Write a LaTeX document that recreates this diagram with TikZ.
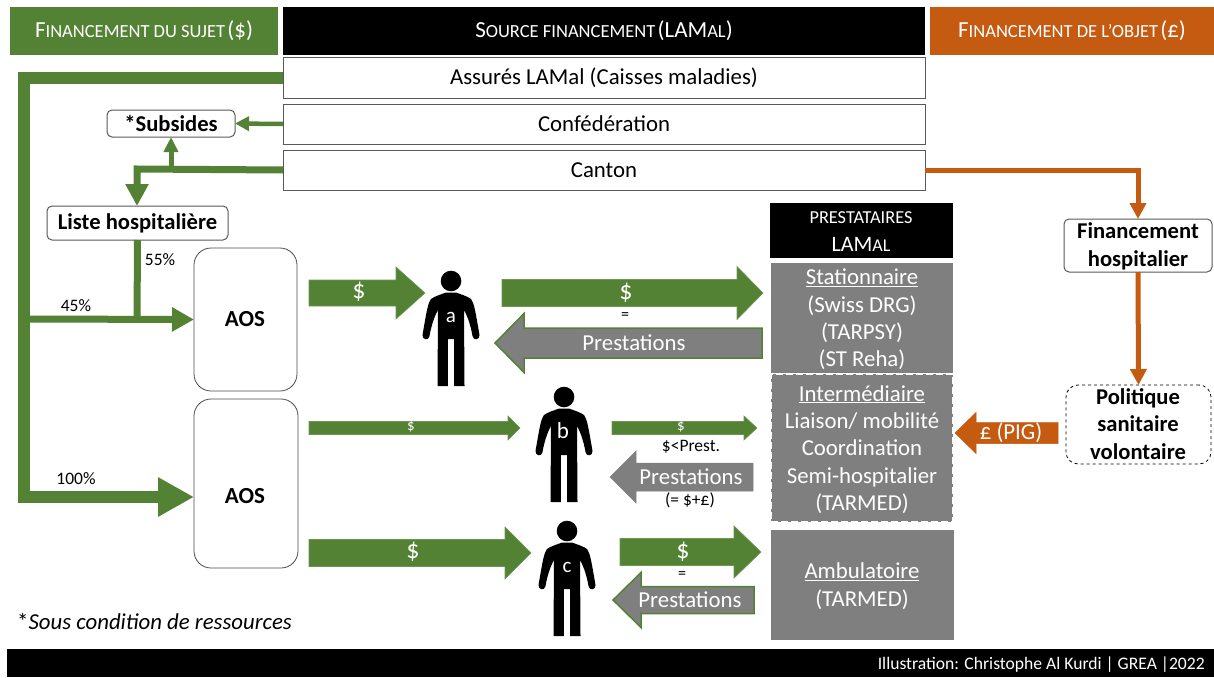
\documentclass[tikz,border=0pt]{standalone}
\usepackage{fontspec}
\setmainfont{Carlito}
\usetikzlibrary{arrows.meta}
\definecolor{grn}{HTML}{548235}
\definecolor{org}{HTML}{C55A11}
\definecolor{gry}{HTML}{7F7F7F}
\newcommand{\fs}[1]{\fontsize{#1}{#1}\selectfont}
\newcommand{\fl}[1]{\fontsize{#1}{27.4}\selectfont}
\newcommand{\capsa}[2]{{\fs{23}#1}{\fs{18.5}#2}}
% \bx{name}{x1}{y1}{x2}{y2}{style}{text}
\newcommand{\bx}[7]{%
  \pgfmathsetmacro{\bxw}{#4-#2}\pgfmathsetmacro{\bxh}{#5-#3}%
  \pgfmathsetmacro{\bxx}{(#2+#4)/2}\pgfmathsetmacro{\bxy}{(#3+#5)/2}%
  \node[#6,minimum width=\bxw pt,minimum height=\bxh pt] (#1) at (\bxx,\bxy) {#7};}
% \blk{name}{tail x}{tip x}{y}{shaft}{head}{head length}{style}
\newcommand{\blk}[8]{%
  \pgfmathsetmacro{\bxb}{#3>#2?#3-#7:#3+#7}%
  \pgfmathsetmacro{\bxs}{#5/2}\pgfmathsetmacro{\bxh}{#6/2}%
  \draw[#8,line join=miter] (#2,#4-\bxs) -- (\bxb,#4-\bxs) -- (\bxb,#4-\bxh) -- (#3,#4)
    -- (\bxb,#4+\bxh) -- (\bxb,#4+\bxs) -- (#2,#4+\bxs) -- cycle;
  \coordinate (#1) at (#2,#4);}
\tikzset{
  headbox/.style={fill=#1,text=white,inner sep=0pt,outer sep=0pt},
  srcbox/.style={draw=black!65,fill=white,line width=1pt,inner sep=0pt,outer sep=0pt,font=\fs{22.8}},
  rbox/.style={draw=black!65,fill=white,line width=1pt,rounded corners=5pt,inner sep=0pt,outer sep=0pt,font=\bfseries\fs{22.6},align=center},
  aosbox/.style={draw=black!70,fill=white,line width=.8pt,rounded corners=17pt,inner sep=0pt,outer sep=0pt},
  aostext/.style={inner sep=0pt,font=\bfseries\fs{23}},
  provbox/.style={fill=gry,inner sep=0pt,outer sep=0pt},
  provtext/.style={text=white,inner sep=0pt,font=\fl{22.8},align=center},
  boldtext/.style={text=black,inner sep=0pt,font=\bfseries\fl{22.6},align=center},
  gflow/.style={draw=grn,line join=miter},
  oflow/.style={draw=org,line join=miter},
  ga/.style={fill=grn,draw=grn!85!white,line width=.6pt},
  pa/.style={fill=gry,draw=grn,line width=1.5pt},
  pb/.style={fill=gry,draw=gry,line width=.5pt},
  oa/.style={fill=org,draw=org,line width=.5pt},
  lblw/.style={text=white,inner sep=0pt},
  lblb/.style={text=black,inner sep=0pt},
  person/.pic={
    \fill[black] (0,0) circle (10.3);
    \fill[black] (-5,11.5) .. controls (-10,13.5) and (-16,15) .. (-20,18)
      .. controls (-23,22) and (-24,28) .. (-28.5,54)
      .. controls (-29,59) and (-22,60) .. (-21.5,55)
      .. controls (-20,46) and (-17,36) .. (-13,29)
      -- (-13.5,105) -- (-3.2,105) -- (-3.2,58) -- (3.2,58) -- (3.2,105) -- (13.5,105) -- (13,29)
      .. controls (17,36) and (20,46) .. (21.5,55)
      .. controls (22,60) and (29,59) .. (28.5,54)
      .. controls (24,28) and (23,22) .. (20,18)
      .. controls (16,15) and (10,13.5) .. (5,11.5) -- cycle;
  }
}
\begin{document}
\begin{tikzpicture}[x=1pt,y=-1pt]
\useasboundingbox (0,0) rectangle (1214,677);
% headers
\bx{hs}{10}{7}{278}{55}{headbox=grn}{\raisebox{-1pt}{\capsa{F}{INANCEMENT DU SUJET} \fs{23}(\$)}}
\bx{hf}{283}{7}{925}{55}{headbox=black}{\raisebox{-1pt}{\capsa{S}{OURCE FINANCEMENT} \fs{23}(LAM{\fs{18.5}AL})}}
\bx{ho}{930}{7}{1214}{55}{headbox=org}{\raisebox{-1pt}{\capsa{F}{INANCEMENT DE L’OBJET} \fs{23}(£)}}
% sources
\bx{assures}{283}{58}{925}{98}{srcbox}{Assurés LAMal (Caisses maladies)}
\bx{conf}{283}{104}{925}{144}{srcbox}{Confédération}
\bx{canton}{283}{150}{925}{190}{srcbox}{Canton}
% left boxes
\bx{subs}{107}{110}{235}{137}{rbox}{*Subsides}
\bx{liste}{47}{206}{228}{240}{rbox}{\raisebox{-1pt}{Liste hospitalière}}
\bx{aosa}{194}{248}{297}{391}{aosbox}{}
\bx{aosb}{194}{399}{298}{568}{aosbox}{}
\node[aostext] (aosat) at (245,319.5) {AOS};
\node[aostext] (aosbt) at (245,496.5) {AOS};
\coordinate (leftt) at (24,78);
\coordinate (leftb) at (24,497);
\coordinate (split) at (137,319);
\coordinate (bleft) at (24,319);
\coordinate (cbr) at (171,169);
\coordinate (ccorner) at (137,169);
\draw[gflow,line width=12pt,-{Triangle[length=36pt,width=37pt]}] (assures.west) -- (leftt) -- (leftb) -- (aosb.west |- leftb);
\draw[gflow,line width=7pt,-{Triangle[length=22pt,width=23pt]}] (bleft) -- (aosa.west);
\draw[gflow,line width=7pt] (liste.south) -- (split |- 0,322.5);
\draw[gflow,line width=4.5pt,-{Triangle[length=14pt,width=14pt]}] (conf.west) -- (subs.east);
\draw[gflow,line width=7pt,-{Triangle[length=22pt,width=22pt]}] (canton.west) -- (ccorner) -- (liste.north -| ccorner);
\draw[gflow,line width=5pt,-{Triangle[length=15pt,width=14pt]}] (cbr) -- (subs.south -| cbr);
\node[lblb,font=\fs{17.5}] (p55) at (160,260) {55\%};
\node[lblb,font=\fs{17.5}] (p45) at (76,306) {45\%};
\node[lblb,font=\fs{17.5}] (p100) at (76,479) {100\%};
\node[lblb,font=\fs{22.8},anchor=west] (note) at (17,621) {*\textit{Sous condition de ressources}};
% persons
\pic at (451,281) {person}; \node[lblw,font=\fs{21}] (pa) at (451,317) {a};
\pic at (564,397) {person}; \node[lblw,font=\fs{23}] (pb) at (563,431) {b};
\pic at (567,531) {person}; \node[lblw,font=\fs{21}] (pc) at (567,567) {c};
% providers
\bx{prest}{770}{203}{953}{258}{headbox=black}{}
\node[lblw,font=\fs{18.3}] (prest1) at (861,218) {PRESTATAIRES};
\node[lblw,font=\fs{22}] (prest2) at (861,244) {LAM{\fs{18}AL}};
\bx{stat}{771}{263}{953}{373}{provbox}{}
\bx{inter}{771}{374}{953}{522}{provbox,draw=white,line width=2.4pt,dash pattern=on 7pt off 3pt}{}
\bx{amb}{771}{530}{954}{640}{provbox}{}
\node[provtext] (statt) at (862,319.5) {\underline{Stationnaire}\\(Swiss DRG)\\(TARPSY)\\(ST Reha)};
\node[provtext] (intert) at (862,449.5) {\underline{Intermédiaire}\\Liaison/ mobilité\\Coordination\\Semi-hospitalier\\(TARMED)};
\node[provtext] (ambt) at (862,586) {\underline{Ambulatoire}\\(TARMED)};
% right side
\bx{fin}{1064}{219}{1212}{272}{rbox}{}
\bx{pol}{1066}{385}{1211}{464}{rbox,draw=black,line width=.8pt,dashed,rounded corners=12pt}{}
\node[boldtext] (fint) at (1138,246.5) {Financement\\hospitalier};
\node[boldtext] (polt) at (1138,424) {Politique\\sanitaire\\volontaire};
\draw[oflow,line width=5pt,-{Triangle[length=16pt,width=16pt]}] (canton.east) -- (fin.north |- canton.east) -- (fin.north);
\draw[oflow,line width=5pt,-{Triangle[length=16pt,width=16pt]}] (fin.south) -- (pol.north);
% block arrows
\blk{ai}{309}{425}{293}{26}{52}{29}{ga}
\blk{ao}{502}{763}{293}{27}{53}{26}{ga}
\blk{ap}{762}{495}{343}{30}{59}{29}{pa}
\blk{bi}{309}{520}{428}{13}{24}{12}{ga}
\blk{bo}{612}{757}{428}{13}{24}{13}{ga}
\blk{bp}{753}{610}{477}{28}{52}{26}{pb}
\blk{ci}{309}{531}{553}{27}{52}{26}{ga}
\blk{co}{620}{761}{552}{27}{52}{27}{ga}
\blk{cp}{754}{613}{600}{27}{55}{28}{pa}
\blk{pig}{1058}{955}{433}{21}{41}{21}{oa}
% arrow labels
\node[lblw,font=\fs{26}] (t1) at (359,292) {\$};
\node[lblw,font=\fs{26}] (t2) at (626,293) {\$};
\node[lblb,font=\fs{16}] (t3) at (625,316) {=};
\node[lblw,font=\fs{22.8}] (t4) at (634,343) {Prestations};
\node[lblw,font=\fs{15}] (t5) at (411,427) {\$};
\node[lblw,font=\fs{15}] (t6) at (681,427) {\$};
\node[lblb,font=\fs{17.5}] (t7) at (691,447) {\$<Prest.};
\node[lblw,font=\fs{22.8}] (t8) at (691,477) {Prestations};
\node[lblb,font=\fs{17.5}] (t9) at (690,500) {(= \$+£)};
\node[lblw,font=\fs{26}] (t10) at (413,552) {\$};
\node[lblw,font=\fs{26}] (t11) at (683,552) {\$};
\node[lblb,font=\fs{16}] (t12) at (682,575) {=};
\node[lblw,font=\fs{22.8}] (t13) at (690,600) {Prestations};
\node[lblw,font=\fs{22.8}] (t14) at (1011,433) {£ (PIG)};
% footer
\bx{foot}{7}{649}{1214}{677}{headbox=black}{}
\node[lblw,font=\fs{17.6},anchor=east] (credit) at (1205,665) {Illustration: Christophe Al Kurdi | GREA |2022};
\end{tikzpicture}
\end{document}
